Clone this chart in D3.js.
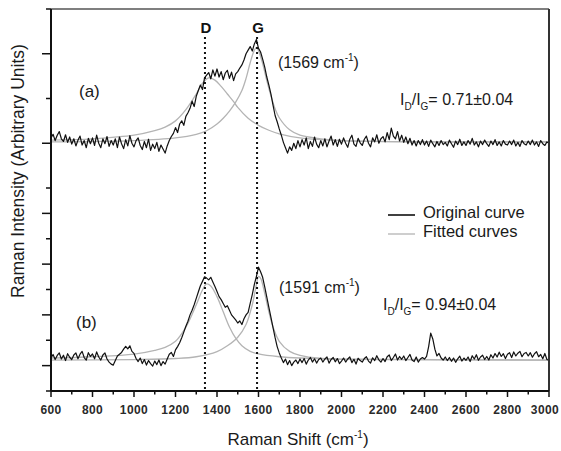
<!DOCTYPE html>
<html>
<head>
<meta charset="utf-8">
<script src="https://cdn.jsdelivr.net/npm/d3@7"></script>
<style>
  body { margin: 0; background: #fff; }
  svg { display: block; font-family: Arial, "Liberation Sans", sans-serif; }
</style>
</head>
<body>
<svg id="chart" width="561" height="451"></svg>
<script>
// sampling grid of the measured spectra (cm-1), one point every 10 cm-1
const shift = d3.range(600, 3001, 10);

// (a) measured spectrum, arbitrary units
const specA = [
  912, 920, 906, 918, 926, 910, 904, 919, 902, 914,
  898, 910, 894, 907, 916, 896, 906, 890, 911, 899,
  912, 895, 918, 900, 890, 910, 899, 915, 893, 906,
  896, 910, 890, 914, 899, 888, 908, 894, 917, 900,
  892, 906, 912, 895, 886, 904, 890, 909, 884, 898,
  888, 902, 882, 896, 887, 878, 894, 906, 915, 922,
  935, 924, 943, 950, 940, 960, 968, 978, 994, 982,
  1005, 1018, 1030, 1020, 1046, 1052, 1058, 1044, 1064, 1050,
  1066, 1048, 1060, 1042, 1057, 1063, 1045, 1059, 1040, 1055,
  1060, 1068, 1075, 1086, 1100, 1108, 1116, 1106, 1122, 1132,
  1112, 1104, 1088, 1070, 1048, 1030, 1010, 985, 962, 948,
  932, 918, 902, 890, 878, 892, 884, 900, 888, 906,
  892, 908, 896, 912, 888, 904, 893, 914, 898, 890,
  906, 894, 910, 892, 905, 916, 896, 908, 893, 909,
  898, 912, 900, 891, 909, 918, 898, 893, 911, 901,
  895, 909, 916, 900, 892, 912, 903, 919, 900, 910,
  915, 903, 924, 908, 934, 916, 910, 926, 905, 918,
  902, 914, 899, 911, 896, 906, 894, 906, 897, 908,
  896, 905, 893, 907, 899, 892, 904, 895, 906, 897,
  902, 894, 907, 899, 891, 905, 897, 909, 895, 903,
  895, 906, 898, 911, 896, 903, 892, 905, 897, 907,
  899, 893, 905, 897, 908, 895, 903, 894, 906, 898,
  896, 905, 897, 907, 894, 902, 893, 906, 899, 896,
  905, 897, 907, 896, 903, 893, 906, 899, 895, 903,
  900
];

// (b) measured spectrum
const specB = [
  130, 144, 124, 140, 150, 126, 141, 120, 147, 133,
  124, 142, 150, 127, 145, 156, 132, 122, 151, 136,
  146, 127, 154, 134, 122, 142, 150, 126, 114, 106,
  102, 120, 138, 145, 152, 165, 176, 166, 178, 156,
  148, 128, 116, 130, 108, 124, 102, 120, 108, 98,
  118, 104, 122, 100, 116, 106, 126, 145, 152, 136,
  162, 175, 190, 210, 232, 255, 275, 300, 318, 340,
  365, 390, 415, 432, 450, 445, 438, 448, 430, 412,
  392, 372, 360, 345, 330, 336, 318, 300, 290, 280,
  268, 276, 262, 285, 300, 310, 345, 380, 420, 452,
  488, 470, 448, 410, 370, 330, 290, 250, 210, 175,
  150, 130, 112, 126, 104, 120, 100, 114, 122, 108,
  126, 112, 128, 106, 122, 132, 114, 127, 110, 124,
  130, 114, 126, 134, 110, 124, 132, 115, 128, 108,
  118, 130, 114, 126, 134, 112, 125, 106, 129, 120,
  114, 128, 135, 118, 110, 131, 120, 139, 123, 114,
  128, 116, 135, 142, 120, 132, 146, 122, 136, 125,
  138, 120, 132, 144, 122, 116, 134, 114, 126, 132,
  126, 136, 175, 228, 205, 165, 138, 148, 130, 122,
  134, 120, 132, 117, 130, 113, 127, 137, 118, 130,
  121, 134, 116, 139, 126, 143, 121, 134, 141, 124,
  136, 122, 143, 130, 148, 134, 153, 136, 147, 128,
  145, 151, 132, 154, 138, 149, 156, 135, 148, 152,
  138, 151, 133, 147, 155, 135, 144, 127, 148, 124,
  122
];

// fitted D and G bands, [shift, intensity]
const fitAD = [[600, 907], [800, 910], [1000, 918], [1100, 928], [1150, 936], [1200, 950], [1250, 975],
  [1300, 1010], [1330, 1034], [1360, 1046], [1390, 1041], [1420, 1027], [1450, 1010], [1480, 993],
  [1500, 980], [1550, 956], [1600, 940], [1650, 929], [1700, 921], [1800, 912], [2000, 906], [3000, 903]];
const fitAG = [[600, 903], [1000, 906], [1200, 912], [1300, 920], [1350, 928], [1400, 943], [1430, 956],
  [1460, 972], [1490, 992], [1520, 1018], [1540, 1045], [1560, 1080], [1580, 1108], [1590, 1114],
  [1600, 1107], [1620, 1078], [1640, 1040], [1660, 1006], [1680, 977], [1700, 957], [1750, 930],
  [1800, 918], [1900, 910], [2000, 906], [3000, 903]];
const fitBD = [[600, 130], [800, 135], [1000, 145], [1100, 160], [1150, 172], [1200, 196], [1250, 252],
  [1300, 340], [1330, 398], [1350, 422], [1370, 414], [1400, 372], [1430, 312], [1460, 252],
  [1490, 208], [1520, 178], [1560, 156], [1600, 146], [1700, 135], [1800, 130], [2000, 126], [3000, 122]];
const fitBG = [[600, 122], [1000, 124], [1200, 128], [1300, 135], [1400, 155], [1450, 178], [1500, 212],
  [1540, 262], [1570, 340], [1590, 420], [1600, 452], [1610, 445], [1630, 385], [1650, 312],
  [1670, 252], [1700, 196], [1750, 156], [1800, 140], [1900, 128], [2000, 125], [3000, 122]];

// band positions marked by dotted lines
const bands = [{ name: "D", pos: 1342 }, { name: "G", pos: 1593 }];

const xTicks = d3.range(600, 3001, 200);
const xMinor = d3.range(700, 3000, 200);
const yTicks = d3.range(0, 1201, 100);

const svg = d3.select("#chart");
const pLeft = 51, pRight = 549, pTop = 9, pBottom = 391;

const x = d3.scaleLinear().domain([600, 3000]).range([pLeft, pRight]);
// the two panels were stacked with different vertical scales
const y = d3.scaleLinear().domain([0, 800, 1200]).range([pBottom, 188, pTop]);

const lineXY = d3.line().x(d => x(d[0])).y(d => y(d[1]));
const fitLine = d3.line().x(d => x(d[0])).y(d => y(d[1])).curve(d3.curveCatmullRom.alpha(0.5));

// fitted curves (grey, under the data)
[fitAD, fitAG, fitBD, fitBG].forEach(f => {
  svg.append("path").attr("d", fitLine(f))
    .attr("fill", "none").attr("stroke", "#b4b4b4").attr("stroke-width", 1.3);
});

// original curves
[specA, specB].forEach(s => {
  svg.append("path").attr("d", lineXY(shift.map((v, i) => [v, s[i]])))
    .attr("fill", "none").attr("stroke", "#111").attr("stroke-width", 1.2)
    .attr("stroke-linejoin", "round");
});

// dotted D / G lines
svg.selectAll(".band").data(bands).enter().append("line")
  .attr("x1", d => x(d.pos)).attr("x2", d => x(d.pos))
  .attr("y1", 37).attr("y2", pBottom)
  .attr("stroke", "#111").attr("stroke-width", 2).attr("stroke-dasharray", "2,3");
svg.selectAll(".bandlab").data(bands).enter().append("text")
  .attr("x", d => x(d.pos) + 1).attr("y", 33)
  .attr("text-anchor", "middle").attr("font-size", 15).attr("font-weight", "bold")
  .attr("fill", "#111").text(d => d.name);

// frame
svg.append("line").attr("x1", pLeft).attr("x2", pRight).attr("y1", pTop).attr("y2", pTop)
  .attr("stroke", "#555").attr("stroke-width", 1.5);
svg.append("line").attr("x1", pRight).attr("x2", pRight).attr("y1", pTop).attr("y2", pBottom)
  .attr("stroke", "#333").attr("stroke-width", 2);

// x axis
const xAxis = svg.append("g").attr("transform", `translate(0,${pBottom})`);
xAxis.append("line").attr("x1", pLeft).attr("x2", pRight).attr("stroke", "#111").attr("stroke-width", 2);
xAxis.selectAll(".xt").data(xTicks).enter().append("line")
  .attr("x1", d => x(d)).attr("x2", d => x(d)).attr("y1", 0).attr("y2", 6)
  .attr("stroke", "#111").attr("stroke-width", 1.5);
xAxis.selectAll(".xm").data(xMinor).enter().append("line")
  .attr("x1", d => x(d)).attr("x2", d => x(d)).attr("y1", 0).attr("y2", 3.5)
  .attr("stroke", "#111").attr("stroke-width", 1.5);
xAxis.selectAll(".xl").data(xTicks).enter().append("text")
  .attr("x", d => Math.min(x(d), 545)).attr("y", 23)
  .attr("text-anchor", "middle").attr("font-size", 12).attr("font-weight", "bold")
  .attr("letter-spacing", 0.4).attr("fill", "#2a2a2a").text(d => d);

// y axis
const yAxis = svg.append("g").attr("transform", `translate(${pLeft},0)`);
yAxis.append("line").attr("y1", pTop).attr("y2", pBottom).attr("stroke", "#111").attr("stroke-width", 2);
yAxis.selectAll(".yt").data(yTicks).enter().append("line")
  .attr("y1", d => y(d)).attr("y2", d => y(d))
  .attr("x1", d => (d / 100) % 2 === 1 ? -9 : -5).attr("x2", 0)
  .attr("stroke", "#111").attr("stroke-width", 1.5);

// axis titles
svg.append("text").attr("transform", "translate(24,171) rotate(-90)")
  .attr("text-anchor", "middle").attr("font-size", 17.5).attr("fill", "#1a1a1a")
  .text("Raman Intensity (Arbitrary Units)");
const xt = svg.append("text").attr("x", 298).attr("y", 445)
  .attr("text-anchor", "middle").attr("font-size", 17).attr("fill", "#1a1a1a");
xt.append("tspan").text("Raman Shift (cm");
xt.append("tspan").attr("font-size", 10).attr("dy", -7).text("-1");
xt.append("tspan").attr("dy", 7).text(")");

// panel labels
const panels = [
  { lab: "(a)", lx: 79, ly: 97, peak: "(1569 cm", px: 278, py: 68, ratio: "0.71\u00b10.04", rx: 400, ry: 105 },
  { lab: "(b)", lx: 76, ly: 328, peak: "(1591 cm", px: 279, py: 293, ratio: "0.94\u00b10.04", rx: 383, ry: 310 }
];
panels.forEach(p => {
  svg.append("text").attr("x", p.lx).attr("y", p.ly).attr("font-size", 17).attr("fill", "#1a1a1a").text(p.lab);
  const t = svg.append("text").attr("x", p.px).attr("y", p.py).attr("font-size", 16).attr("fill", "#1a1a1a");
  t.append("tspan").text(p.peak);
  t.append("tspan").attr("font-size", 10).attr("dy", -7).text("-1");
  t.append("tspan").attr("dy", 7).text(")");
  const r = svg.append("text").attr("x", p.rx).attr("y", p.ry).attr("font-size", 16).attr("fill", "#1a1a1a");
  r.append("tspan").text("I");
  r.append("tspan").attr("font-size", 10).attr("dy", 5).text("D");
  r.append("tspan").attr("dy", -5).text("/I");
  r.append("tspan").attr("font-size", 10).attr("dy", 5).text("G");
  r.append("tspan").attr("dy", -5).text("= " + p.ratio);
});

// legend
const legend = [
  { name: "Original curve", color: "#111", y: 215 },
  { name: "Fitted curves", color: "#b4b4b4", y: 234 }
];
legend.forEach(l => {
  svg.append("line").attr("x1", 388).attr("x2", 415).attr("y1", l.y).attr("y2", l.y)
    .attr("stroke", l.color).attr("stroke-width", l.color === "#111" ? 1.6 : 1.3);
  svg.append("text").attr("x", 423).attr("y", l.y + 3).attr("font-size", 16.5)
    .attr("fill", "#1a1a1a").text(l.name);
});
</script>
</body>
</html>
